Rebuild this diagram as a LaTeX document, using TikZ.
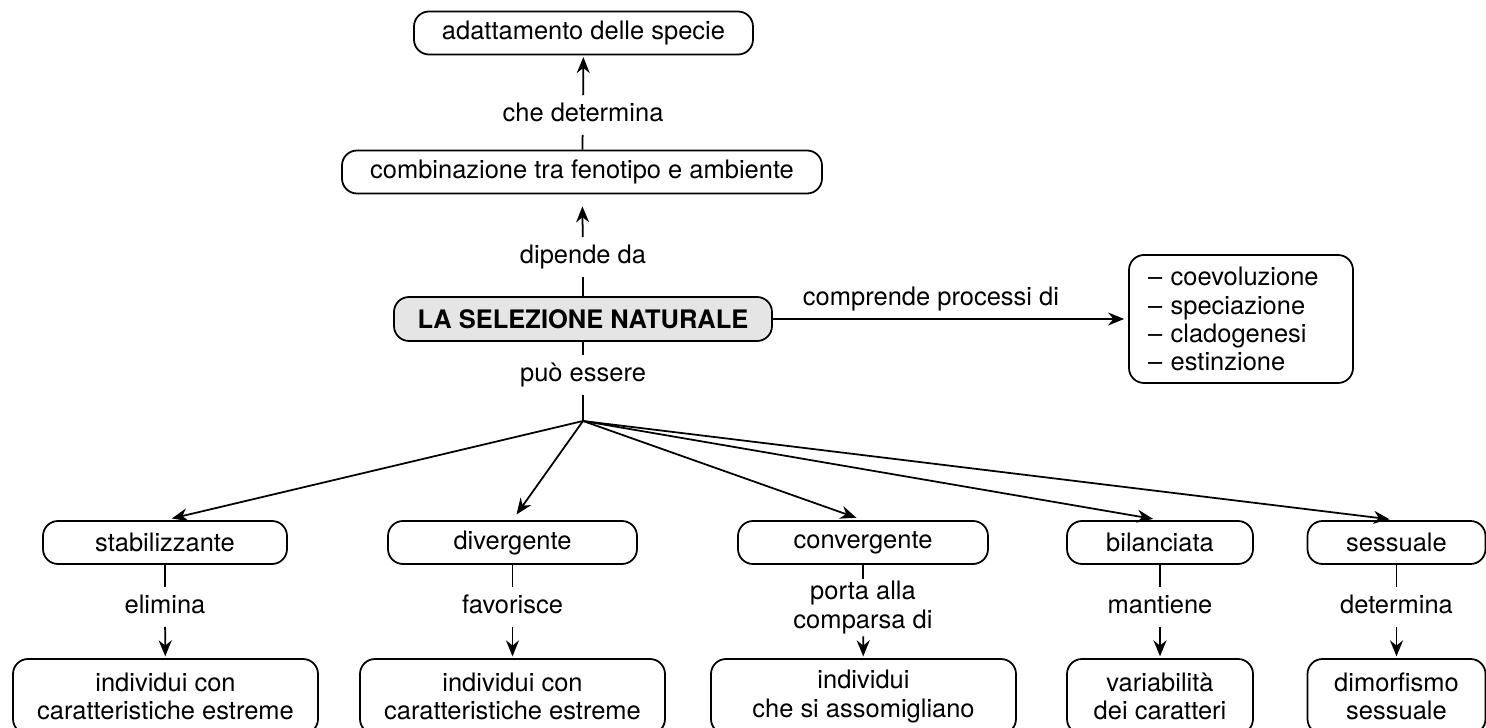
\documentclass[tikz,border=0pt]{standalone}
\usepackage{fontspec}
\setmainfont{TeX Gyre Heros}
\usetikzlibrary{arrows.meta}

\begin{document}
\begin{tikzpicture}[font=\fontsize{14.5}{16}\selectfont,line width=1pt,
        >={Stealth[length=3.2mm,width=2.6mm]},
        box/.style={draw,rounded corners=3mm,minimum height=8.6mm,inner sep=0pt},
        lbl/.style={inner sep=4pt,text height=10.5pt,text depth=3pt},
        arr/.style={->,shorten >=1pt}]
    \useasboundingbox (0,0) rectangle (29.72,-14.56);

    \node[box,minimum width=67.8mm] (adatt) at (11.67,-0.66) {adattamento delle specie};
    \node[lbl] (chedet) at (11.66,-2.30) {che determina};
    \node[box,minimum width=96mm] (comb) at (11.64,-3.44) {combinazione tra fenotipo e ambiente};
    \node[lbl] (dip) at (11.66,-5.14) {dipende da};
    \node[box,fill=black!10,font=\fontsize{14.5}{16}\selectfont\bfseries,minimum width=75.6mm,minimum height=8.8mm] (sel) at (11.66,-6.38) {LA SELEZIONE NATURALE};
    \node[lbl] (puo) at (11.66,-7.50) {può essere};
    \coordinate (br) at (11.66,-8.42);
    \node[box,align=left,text width=37.2mm,inner xsep=3.8mm,minimum height=25.6mm] (proc) at (24.82,-6.38)
        {– coevoluzione\\– speciazione\\– cladogenesi\\– estinzione};

    \node[box,minimum width=48.8mm] (stab) at (3.30,-10.85) {stabilizzante};
    \node[box,minimum width=49.8mm] (div) at (10.25,-10.85) {divergente};
    \node[box,minimum width=50mm] (conv) at (17.26,-10.85) {convergente};
    \node[box,minimum width=37.2mm] (bil) at (23.20,-10.85) {bilanciata};
    \node[box,minimum width=35.6mm] (sess) at (27.93,-10.85) {sessuale};

    \node[lbl] (elim) at (3.30,-12.14) {elimina};
    \node[lbl] (fav) at (10.25,-12.14) {favorisce};
    \node[align=center,inner sep=1pt] (porta) at (17.26,-12.15) {porta alla\\comparsa di};
    \node[lbl] (mant) at (23.20,-12.14) {mantiene};
    \node[lbl] (det) at (27.93,-12.14) {determina};

    \node[box,align=center,minimum width=61mm,minimum height=15mm] (estr1) at (3.31,-13.93) {individui con\\caratteristiche estreme};
    \node[box,align=center,minimum width=61mm,minimum height=15mm] (estr2) at (10.25,-13.93) {individui con\\caratteristiche estreme};
    \node[box,align=center,minimum width=61mm,minimum height=15mm] (simili) at (17.27,-13.93) {individui\\che si assomigliano};
    \node[box,align=center,minimum width=37.2mm,minimum height=15mm] (var) at (23.20,-13.93) {variabilità\\dei caratteri};
    \node[box,align=center,minimum width=35.6mm,minimum height=15mm] (dimorf) at (27.93,-13.93) {dimorfismo\\sessuale};

    \draw (comb) -- (chedet);
    \draw[arr] (chedet) -- (adatt);
    \draw (sel) -- (dip);
    \draw[arr,shorten >=2.4mm] (dip) -- (comb);
    \draw (sel) -- (puo) -- (br);
    \draw[arr,shorten >=0.8mm] (sel) -- node[lbl,above,pos=0.445] {comprende processi di} (proc);

    \draw[arr,shorten >=1.4mm] (br) -- (stab.north);
    \draw[arr,shorten >=1.4mm] (br) -- (div.north);
    \draw[arr,shorten >=1.4mm] (br) -- (conv.north);
    \draw[arr,shorten >=1.4mm] (br) -- (bil.north);
    \draw[arr,shorten >=1.4mm] (br) -- (sess.north);

    \draw (stab) -- (elim);
    \draw[arr] (elim) -- (estr1);
    \draw (div) -- (fav);
    \draw[arr] (fav) -- (estr2);
    \draw (conv) -- (porta);
    \draw[arr] (porta) -- (simili);
    \draw (bil) -- (mant);
    \draw[arr] (mant) -- (var);
    \draw (sess) -- (det);
    \draw[arr] (det) -- (dimorf);
\end{tikzpicture}
\end{document}
